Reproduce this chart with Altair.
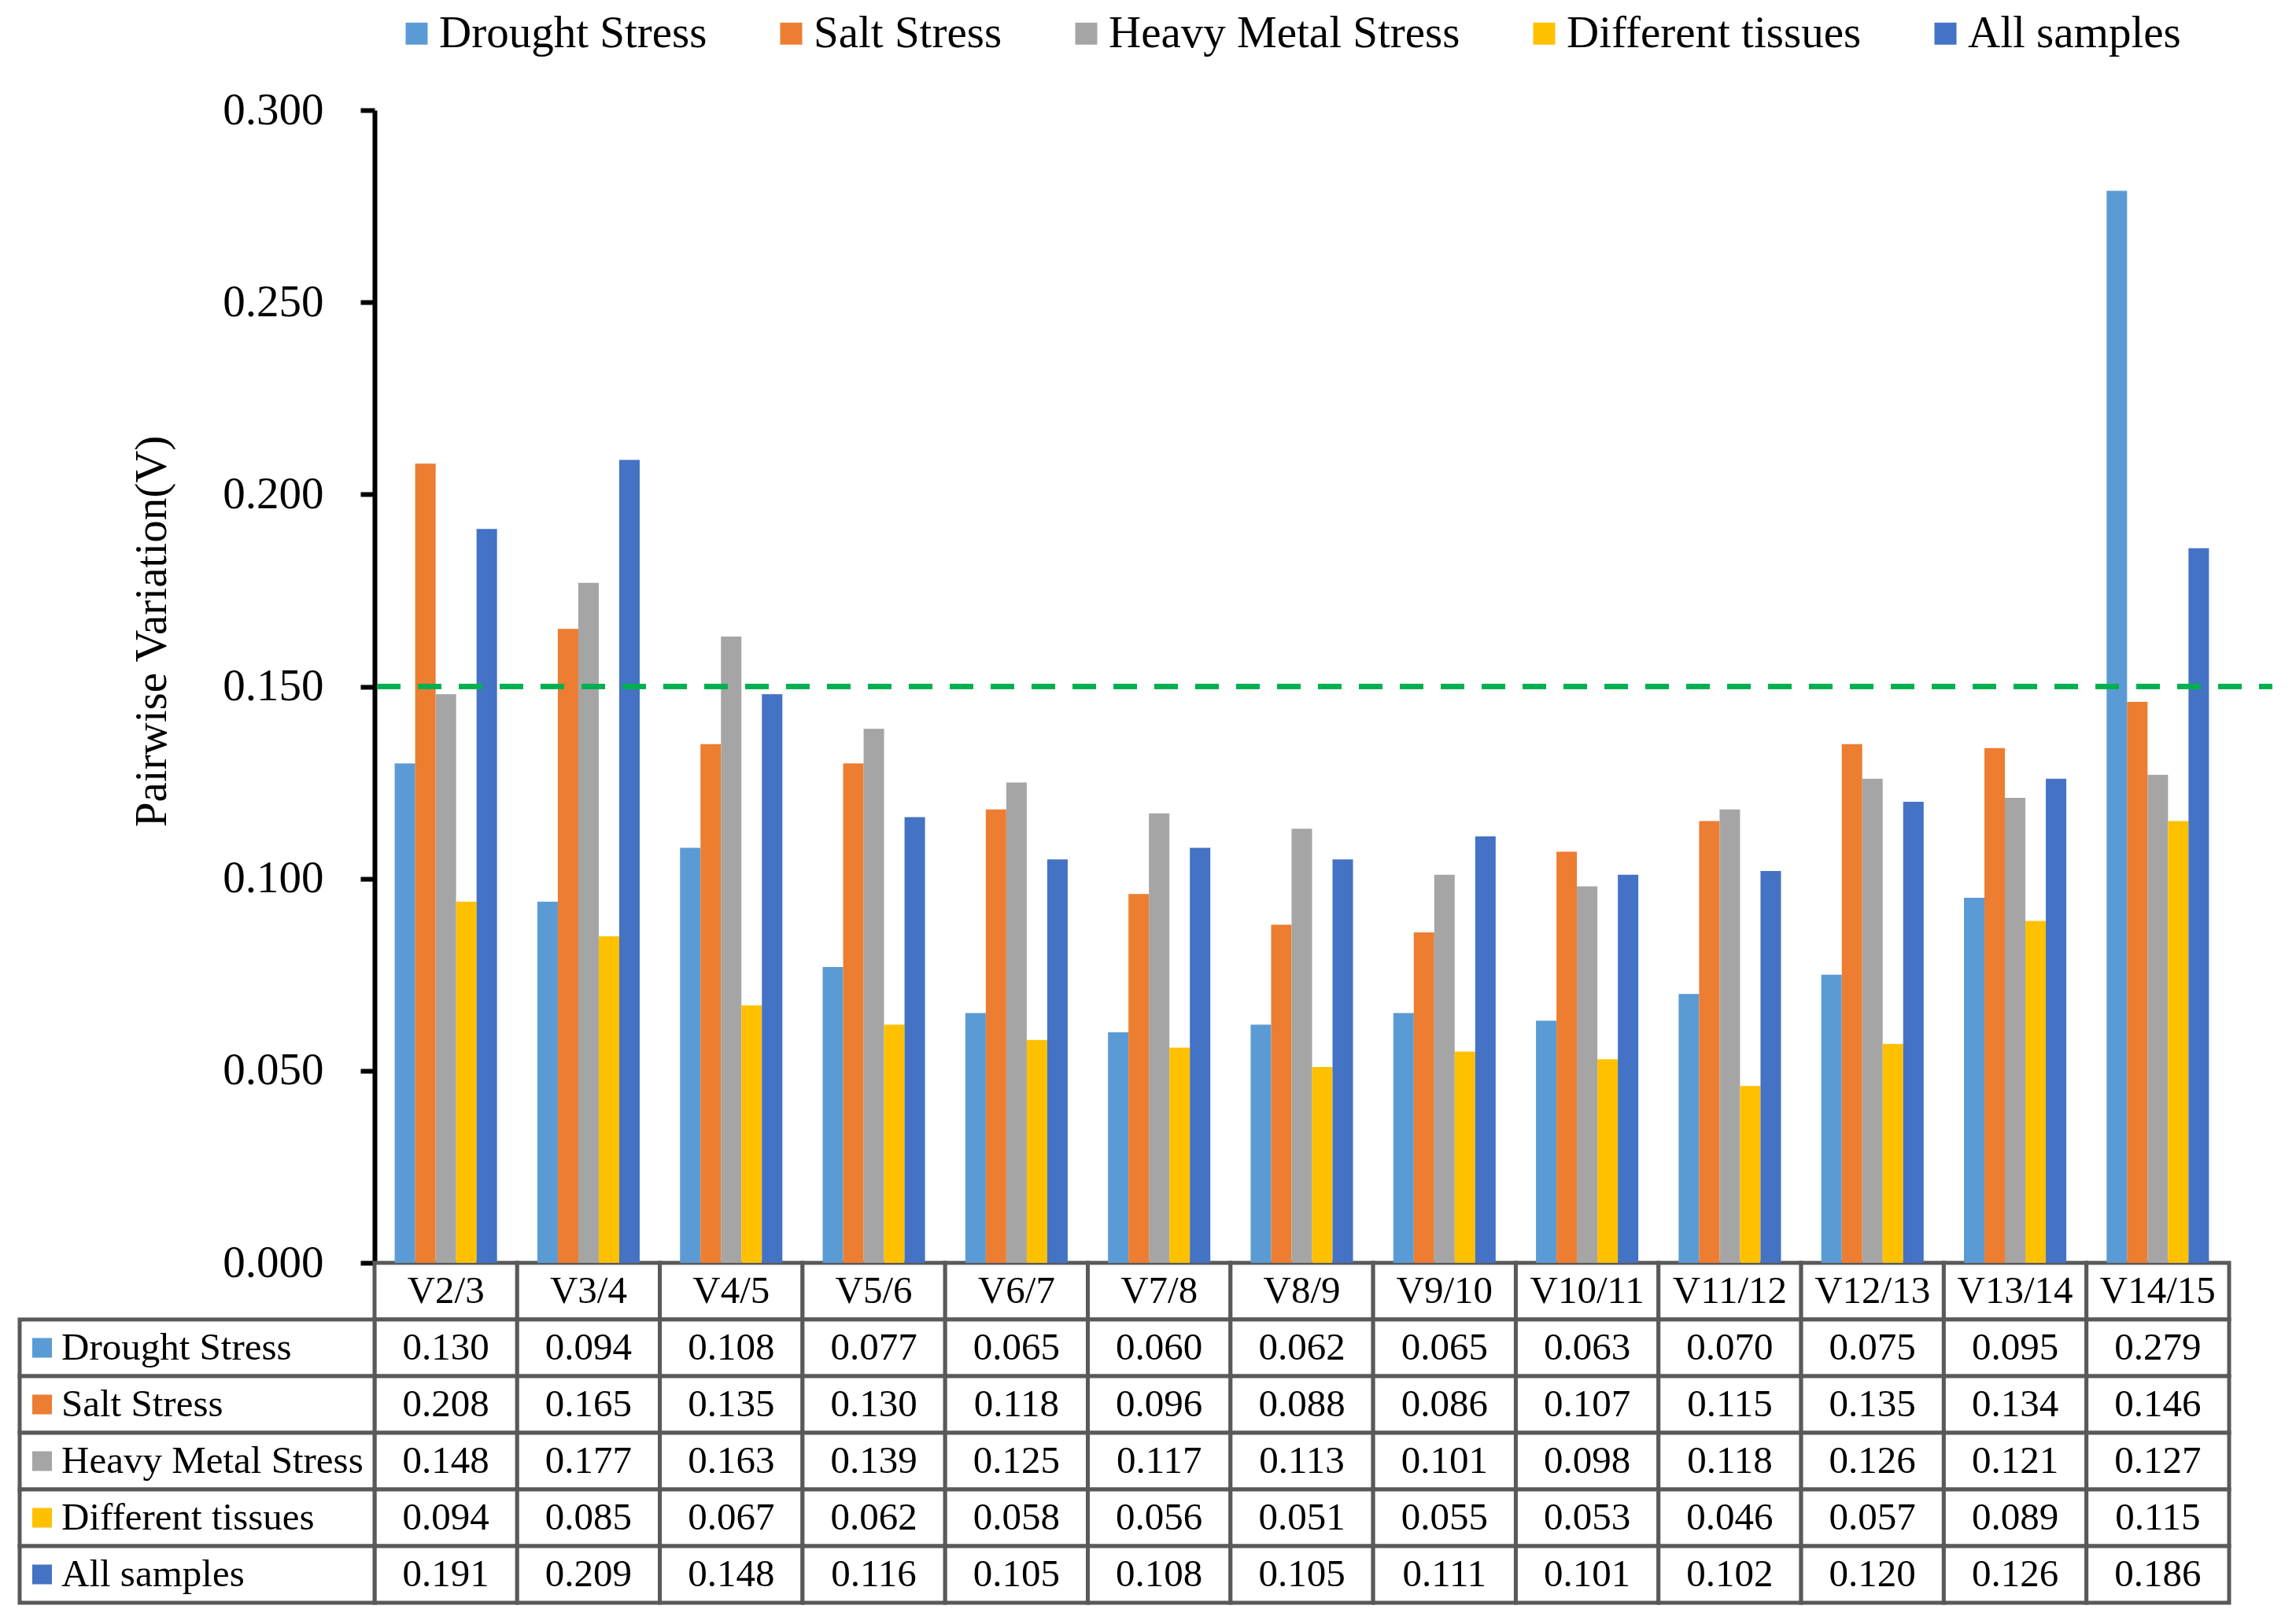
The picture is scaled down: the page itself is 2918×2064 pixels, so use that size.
import altair as alt
import pandas as pd

categories = ["V2/3", "V3/4", "V4/5", "V5/6", "V6/7", "V7/8", "V8/9", "V9/10",
              "V10/11", "V11/12", "V12/13", "V13/14", "V14/15"]
series = ["Drought Stress", "Salt Stress", "Heavy Metal Stress", "Different tissues", "All samples"]
colors = ["#5B9BD5", "#ED7D31", "#A5A5A5", "#FFC000", "#4472C4"]

drought = [0.130, 0.094, 0.108, 0.077, 0.065, 0.060, 0.062, 0.065, 0.063, 0.070, 0.075, 0.095, 0.279]
salt = [0.208, 0.165, 0.135, 0.130, 0.118, 0.096, 0.088, 0.086, 0.107, 0.115, 0.135, 0.134, 0.146]
heavy = [0.148, 0.177, 0.163, 0.139, 0.125, 0.117, 0.113, 0.101, 0.098, 0.118, 0.126, 0.121, 0.127]
tissues = [0.094, 0.085, 0.067, 0.062, 0.058, 0.056, 0.051, 0.055, 0.053, 0.046, 0.057, 0.089, 0.115]
allsamples = [0.191, 0.209, 0.148, 0.116, 0.105, 0.108, 0.105, 0.111, 0.101, 0.102, 0.120, 0.126, 0.186]

y_ticks = [0.0, 0.05, 0.10, 0.15, 0.20, 0.25, 0.30]
threshold = [0.15]

values = [drought, salt, heavy, tissues, allsamples]
rows = []
for s, vals in zip(series, values):
    for c, v in zip(categories, vals):
        rows.append({"Category": c, "Series": s, "Row": s, "Value": v, "Label": f"{v:.3f}"})
df = pd.DataFrame(rows)

HEADER = "Item"
table_rows = [HEADER] + series
cells = pd.DataFrame([{"Category": c, "Row": r} for r in table_rows for c in categories])
header_df = pd.DataFrame([{"Category": c, "Row": HEADER} for c in categories])
label_df = pd.DataFrame([{"Col": "label", "Row": s, "Series": s} for s in series])
thr_df = pd.DataFrame({"v": threshold})

W, H = 2357, 1465
TABLE_H = 432
LABEL_W = 451
FONT = "Liberation Serif"

xcat = alt.Scale(type="band", domain=categories, paddingInner=0, paddingOuter=0)
ytab = alt.Scale(type="band", domain=table_rows, range=[H, H + TABLE_H], paddingInner=0, paddingOuter=0)
xlab = alt.Scale(type="band", domain=["label"], range=[-LABEL_W, 0], paddingInner=0, paddingOuter=0)
yval = alt.Scale(domain=[0, 0.3], nice=False, zero=True)
cscale = alt.Scale(domain=series, range=colors)

legend = alt.Legend(
    title=None, orient="none", legendX=25, legendY=-126, direction="horizontal",
    symbolType="square", symbolSize=784, symbolStrokeWidth=0, symbolOpacity=1,
    labelFont=FONT, labelFontSize=57, labelColor="black", labelOffset=0,
    columnPadding=78, padding=0, labelLimit=1000,
)

bars = alt.Chart(df).mark_bar(opacity=1).encode(
    x=alt.X("Category:N", scale=xcat, axis=None),
    xOffset=alt.XOffset("Series:N", scale=alt.Scale(domain=series, paddingInner=0, paddingOuter=0.985)),
    y=alt.Y("Value:Q", scale=yval, axis=alt.Axis(
        values=y_ticks, format=".3f", title="Pairwise Variation(V)",
        labelFont=FONT, labelFontSize=57, labelColor="black", labelPadding=47,
        titleFont=FONT, titleFontSize=57, titleFontWeight="normal", titleColor="black",
        titlePadding=60, titleY=662,
        domainColor="black", domainWidth=6, tickColor="black", tickWidth=6, tickSize=18,
        grid=False,
    )),
    color=alt.Color("Series:N", scale=cscale, legend=legend),
)

rule = alt.Chart(thr_df).mark_rule(color="#00B050", strokeWidth=7, strokeDash=[30, 22]).encode(
    y=alt.Y("v:Q", scale=yval, axis=None),
    x=alt.value(3),
    x2=alt.value(2412),
)

cat_cells = alt.Chart(cells).mark_rect(fill="white", stroke="#595959", strokeWidth=5).encode(
    x=alt.X("Category:N", scale=xcat, axis=None),
    y=alt.Y("Row:N", scale=ytab, axis=None),
)

lab_cells = alt.Chart(label_df).mark_rect(fill="white", stroke="#595959", strokeWidth=5).encode(
    x=alt.X("Col:N", scale=xlab, axis=None),
    y=alt.Y("Row:N", scale=ytab, axis=None),
)

header_text = alt.Chart(header_df).mark_text(font=FONT, fontSize=49, color="black", baseline="middle").encode(
    x=alt.X("Category:N", scale=xcat, axis=None),
    y=alt.Y("Row:N", scale=ytab, axis=None),
    text="Category:N",
)

value_text = alt.Chart(df).mark_text(font=FONT, fontSize=49, color="black", baseline="middle").encode(
    x=alt.X("Category:N", scale=xcat, axis=None),
    y=alt.Y("Row:N", scale=ytab, axis=None),
    text="Label:N",
)

label_text = alt.Chart(label_df).mark_text(font=FONT, fontSize=49, color="black", baseline="middle",
                                           align="left", dx=53).encode(
    x=alt.X("Col:N", scale=xlab, axis=None, bandPosition=0),
    y=alt.Y("Row:N", scale=ytab, axis=None),
    text="Series:N",
)

swatch = alt.Chart(label_df).mark_square(size=625, opacity=1, xOffset=28.5, strokeWidth=0).encode(
    x=alt.X("Col:N", scale=xlab, axis=None, bandPosition=0),
    y=alt.Y("Row:N", scale=ytab, axis=None),
    color=alt.Color("Series:N", scale=cscale, legend=legend),
)

chart = alt.layer(
    cat_cells, lab_cells, bars, rule, header_text, value_text, label_text, swatch
).resolve_scale(
    x="independent", y="independent"
).properties(
    width=W, height=H,
    background="white",
    autosize=alt.AutoSizeParams(type="none"),
    padding={"left": 468, "top": 132, "right": 70, "bottom": 445},
).configure_view(strokeWidth=0, stroke="transparent")

chart.save("out.html", embed_options={"renderer": "svg", "actions": False})
